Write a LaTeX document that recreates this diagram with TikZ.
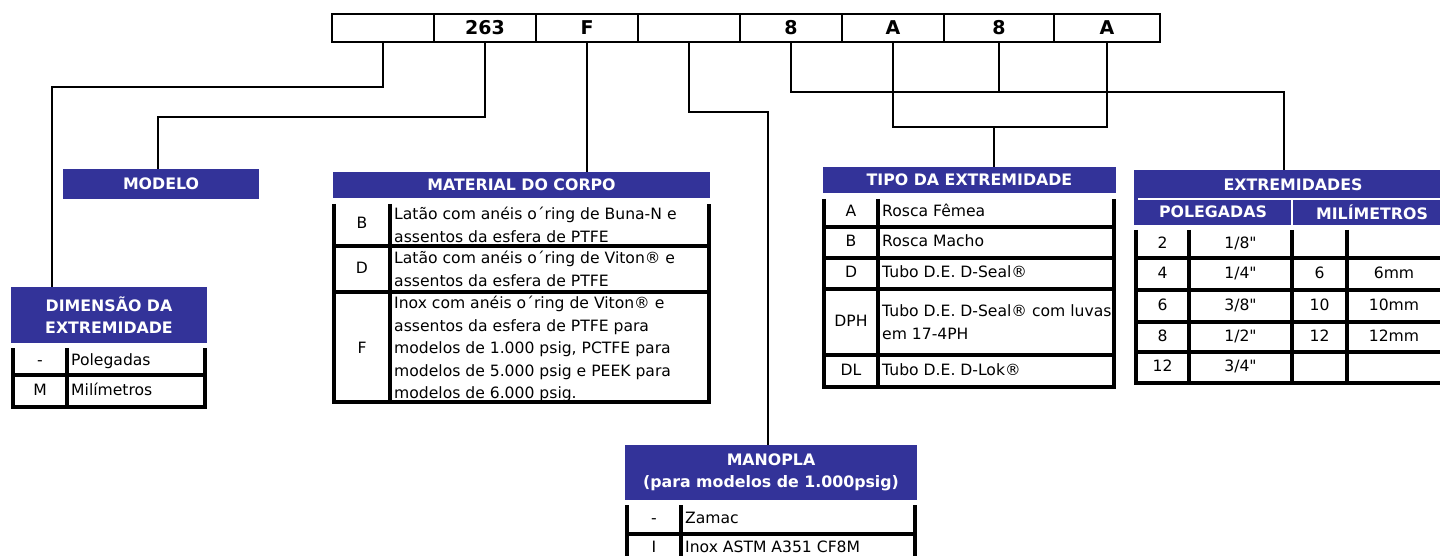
\documentclass[tikz,border=0pt]{standalone}
\usepackage{fontspec}
\setmainfont{DejaVu Sans}[Ligatures=TeXOff]
\usetikzlibrary{calc}
\definecolor{headfill}{HTML}{333399}

\begin{document}
\begin{tikzpicture}[
  x=1pt, y=-1pt,
  font=\fontsize{15.6}{22.5}\selectfont,
  link/.style={draw=black, line width=2.1pt},
  tableRule/.style={draw=black, line width=3.2pt},
  divider/.style={draw=white, line width=2pt},
  codebox/.style={
    draw=black, line width=2.8pt, minimum height=28pt,
    inner sep=0pt, font=\fontsize{19}{22}\selectfont\bfseries
  },
  head/.style={
    fill=headfill, text=white, inner sep=0pt, align=center,
    font=\fontsize{15.8}{22.5}\selectfont\bfseries
  },
  key/.style={inner sep=0pt, text height=11.5pt, text depth=3.5pt},
  entry/.style={key, anchor=west},
  para/.style={inner sep=0pt, anchor=west, align=left}
]
\useasboundingbox (0,0) rectangle (1440,556);
\clip (0,0) rectangle (1440,556);

% Ordering code boxes.
\node[codebox, minimum width=102pt] (code1) at (383,28) {};
\node[codebox, minimum width=102pt] (code2) at (485,28) {263};
\node[codebox, minimum width=102pt] (code3) at (587,28) {F};
\node[codebox, minimum width=102pt] (code4) at (689,28) {};
\node[codebox, minimum width=102pt] (code5) at (791,28) {8};
\node[codebox, minimum width=102pt] (code6) at (893,28) {A};
\node[codebox, minimum width=110pt] (code7) at (999,28) {8};
\node[codebox, minimum width=106pt] (code8) at (1107,28) {A};

% Table headers.
\node[head, minimum width=196pt, minimum height=56pt] (dimHead)
  at (109,315) {DIMENSÃO DA\\EXTREMIDADE};
\node[head, minimum width=196pt, minimum height=30pt] (modelHead)
  at (161,184) {MODELO};
\node[head, minimum width=377pt, minimum height=26pt] (bodyHead)
  at (521.5,185) {MATERIAL DO CORPO};
\node[head, minimum width=293pt, minimum height=26pt] (typeHead)
  at (969.5,180) {TIPO DA EXTREMIDADE};
\node[head, minimum width=318pt, minimum height=29pt] (endsHead)
  at (1293,184.5) {EXTREMIDADES};
\node[head, minimum width=158pt, minimum height=26pt] (inchHead)
  at (1213,212) {POLEGADAS};
\node[head, minimum width=160pt, minimum height=26pt] (mmHead)
  at (1372,212) {MILÍMETROS};
\node[head, minimum width=292pt, minimum height=55pt] (handleHead)
  at (771,472.5) {MANOPLA\\(para modelos de 1.000psig)};
\draw[divider] ($(endsHead.south west)+(4,0)$) -- (endsHead.south east);
\draw[divider] (inchHead.north east) -- (inchHead.south east);

% Connectors from the code boxes.
\coordinate (dimBend) at (52,87);
\coordinate (modelBend) at (158,117);
\coordinate (handleBend) at (768,112);
\coordinate (endsBend) at (1284,92);
\coordinate (typeBar) at (994,127);
\draw[link] (code1.south) |- (dimBend) -- (dimBend |- dimHead.north);
\draw[link] (code2.south) |- (modelBend) -- (modelBend |- modelHead.north);
\draw[link] (code3.south) -- (code3.south |- bodyHead.north);
\draw[link] (code4.south) |- (handleBend) -- (handleBend |- handleHead.north);
\draw[link] (code5.south) |- (endsBend) -- (endsBend |- endsHead.north);
\draw[link] (code7.south) -- (code7.south |- endsBend);
\draw[link] (code6.south) |- (code8.south |- typeBar) -- (code8.south);
\draw[link] (typeBar) -- (typeBar |- typeHead.north);

% Dimension table.
\node[key] (dimKeyInch) at (40,361.5) {-};
\node[entry] (dimInch) at (71,361.5) {Polegadas};
\node[key] (dimKeyMm) at (40,391) {M};
\node[entry] (dimMm) at (71,391) {Milímetros};
\draw[tableRule] (13,348) -- (13,407) -- (205,407) -- (205,348);
\draw[tableRule] (67,348) -- (67,407) (13,375) -- (205,375);

% Body material table.
\node[key] (bodyKeyB) at (362,225) {B};
\node[para] (bodyB) at (394,225)
  {Latão com anéis o´ring de Buna-N e\\assentos da esfera de PTFE};
\node[key] (bodyKeyD) at (362,269) {D};
\node[para] (bodyD) at (394,269)
  {Latão com anéis o´ring de Viton® e\\assentos da esfera de PTFE};
\node[key] (bodyKeyF) at (362,349) {F};
\node[para] (bodyF) at (394,349)
  {Inox com anéis o´ring de Viton® e\\assentos da esfera de PTFE para\\
   modelos de 1.000 psig, PCTFE para\\modelos de 5.000 psig e PEEK para\\
   modelos de 6.000 psig.};
\draw[tableRule] (334,204) -- (334,402) -- (709,402) -- (709,204);
\draw[tableRule] (390,204) -- (390,402)
  (334,246) -- (709,246) (334,292) -- (709,292);

% End type table.
\node[key] (typeKeyA) at (851,213) {A};
\node[entry] (typeA) at (882,213) {Rosca Fêmea};
\node[key] (typeKeyB) at (851,242.5) {B};
\node[entry] (typeB) at (882,242.5) {Rosca Macho};
\node[key] (typeKeyD) at (851,273.5) {D};
\node[entry] (typeD) at (882,273.5) {Tubo D.E. D-Seal®};
\node[key] (typeKeyDph) at (851,322) {DPH};
\node[para] (typeDph) at (882,322) {Tubo D.E. D-Seal® com luvas\\em 17-4PH};
\node[key] (typeKeyDl) at (851,371) {DL};
\node[entry] (typeDl) at (882,371) {Tubo D.E. D-Lok®};
\draw[tableRule] (824,199) -- (824,387) -- (1114,387) -- (1114,199);
\draw[tableRule] (878,199) -- (878,387);
\foreach \y in {227,258,289,355}
  \draw[tableRule] (824,\y) -- (1114,\y);

% End size table.
\node[key] (endsInch2) at (1162.5,244) {2};
\node[key] (endsFrac2) at (1240.5,244) {1/8"};
\node[key] (endsInch4) at (1162.5,274.5) {4};
\node[key] (endsFrac4) at (1240.5,274.5) {1/4"};
\node[key] (endsMm6) at (1319.5,274.5) {6};
\node[key] (endsSize6) at (1394,274.5) {6mm};
\node[key] (endsInch6) at (1162.5,306) {6};
\node[key] (endsFrac6) at (1240.5,306) {3/8"};
\node[key] (endsMm10) at (1319.5,306) {10};
\node[key] (endsSize10) at (1394,306) {10mm};
\node[key] (endsInch8) at (1162.5,337) {8};
\node[key] (endsFrac8) at (1240.5,337) {1/2"};
\node[key] (endsMm12) at (1319.5,337) {12};
\node[key] (endsSize12) at (1394,337) {12mm};
\node[key] (endsInch12) at (1162.5,367.5) {12};
\node[key] (endsFrac12) at (1240.5,367.5) {3/4"};
\draw[tableRule] (1136,230) -- (1136,383) -- (1452,383);
\foreach \y in {258,290,322,352}
  \draw[tableRule] (1136,\y) -- (1452,\y);
\foreach \x in {1189,1292,1347}
  \draw[tableRule] (\x,230) -- (\x,383);

% Handle table.
\node[key] (handleKeyZ) at (654,519.5) {-};
\node[entry] (handleZ) at (685,519.5) {Zamac};
\node[key] (handleKeyI) at (654,548) {I};
\node[entry] (handleI) at (685,548) {Inox ASTM A351 CF8M};
\draw[tableRule] (627,505) -- (627,570) (915,505) -- (915,570);
\draw[tableRule] (681,505) -- (681,570) (627,534) -- (915,534);

\end{tikzpicture}
\end{document}
